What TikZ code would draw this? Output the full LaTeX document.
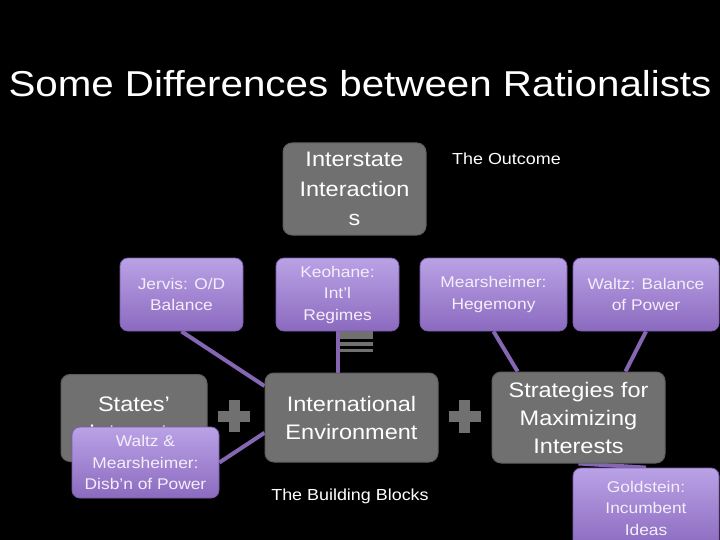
\documentclass[tikz,border=0pt]{standalone}
\usepackage{fontspec}
\setmainfont{Liberation Sans}[FakeStretch=1.12]
\usetikzlibrary{calc}
\pgfdeclarelayer{bg}
\pgfdeclarelayer{lines}
\pgfsetlayers{bg,lines,main}
\definecolor{boxgray}{HTML}{707070}
\definecolor{gborder}{HTML}{5E5E5E}
\definecolor{ptop}{HTML}{BAA2E6}
\definecolor{pbot}{HTML}{8B6ABF}
\definecolor{pedge}{HTML}{7A5CA8}
\definecolor{pline}{HTML}{8466B2}
\definecolor{ptext}{HTML}{F4EEFA}
\tikzset{
  graybox/.style={draw=gborder, line width=1pt, fill=boxgray, rounded corners=9pt,
    text=white, align=center, font=\fontsize{21}{28}\selectfont, inner sep=0pt},
  purplebox/.style={draw=pedge, line width=0.8pt, top color=ptop, bottom color=pbot,
    rounded corners=8pt, text=ptext, align=center, font=\fontsize{15.5}{21.5}\selectfont, inner sep=0pt},
  conn/.style={draw=pline, line width=4pt},
  plaintext/.style={text=white, font=\fontsize{16}{20}\selectfont, inner sep=0pt},
  signbar/.style={fill=boxgray}
}
\begin{document}
\begin{tikzpicture}[x=1pt,y=-1pt]
\begin{pgfonlayer}{bg}
  \fill[black] (0,0) rectangle (720,540);
\end{pgfonlayer}
\useasboundingbox (0,0) rectangle (720,540);
\clip (0,0) rectangle (720,540);

% title
\node[text=white, font=\fontsize{36}{40}\selectfont, inner sep=0pt, anchor=base] (title) at (360,97) {Some Differences between Rationalists};

% gray boxes
\node[graybox, font=\fontsize{21}{29.5}\selectfont, minimum width=143pt, minimum height=92pt] (inter) at (354.5,189) {Interstate\\Interaction\\s};
\node[graybox, minimum width=146pt, minimum height=87pt] (states) at (134,418) {States’\\Interests};
\node[graybox, minimum width=173pt, minimum height=89pt] (ie) at (351.5,417.5) {International\\Environment};
\node[graybox, minimum width=173pt, minimum height=91pt] (st) at (578.5,417.5) {Strategies for\\Maximizing\\Interests};

% purple boxes
\node[purplebox, minimum width=123pt, minimum height=73pt] (jervis) at (181.5,294.5) {Jervis: O/D\\Balance};
\node[purplebox, minimum width=123pt, minimum height=73pt] (keo) at (337.5,294.5) {Keohane:\\Int’l\\Regimes};
\node[purplebox, minimum width=147pt, minimum height=73pt] (mear) at (493.5,294.5) {Mearsheimer:\\Hegemony};
\node[purplebox, minimum width=146pt, minimum height=73pt] (wz) at (646,294.5) {Waltz: Balance\\of Power};
\node[purplebox, minimum width=147pt, minimum height=71pt] (wm) at (145.5,462.5) {Waltz \&\\Mearsheimer:\\Disb’n of Power};
\node[purplebox, minimum width=146pt, minimum height=80pt] (gold) at (646,508) {Goldstein:\\Incumbent\\Ideas};

% plain labels
\node[plaintext, anchor=base west] (outcome) at (452,165) {The Outcome};
\node[plaintext, anchor=base] (blocks) at (350,500) {The Building Blocks};

% plus and equals signs
\fill[signbar] (218,410.5) rectangle (250,421.5);
\fill[signbar] (228.5,400) rectangle (239.5,432);
\fill[signbar] (448.5,411) rectangle (481,422);
\fill[signbar] (459,400) rectangle (470,433);
\begin{pgfonlayer}{lines}
  \fill[signbar] (340,331) rectangle (373,339);
  \fill[signbar] (340,342) rectangle (373,346);
  \fill[signbar] (340,349) rectangle (373,352);
  % connectors
  \draw[conn] (jervis.south) -- ($(ie.north west)!0.15!(ie.south west)$);
  \draw[conn] (wm.east) -- ($(ie.north west)!0.67!(ie.south west)$);
  \draw[conn] (keo.south) -- (keo.south |- ie.north);
  \draw[conn] (mear.south) -- ($(st.north west)!0.15!(st.north east)$);
  \draw[conn] (wz.south) -- ($(st.north west)!0.77!(st.north east)$);
  \draw[conn] (st.south) -- (gold.north);
\end{pgfonlayer}
\end{tikzpicture}
\end{document}
